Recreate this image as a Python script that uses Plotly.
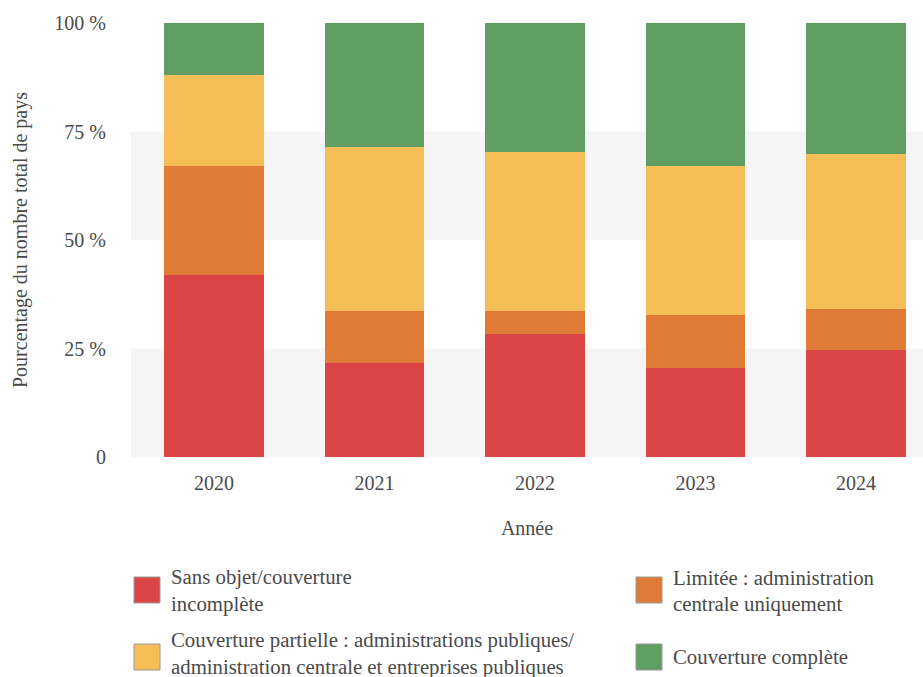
import plotly.graph_objects as go

# Data: share of countries (%) by coverage level and year
years = ["2020", "2021", "2022", "2023", "2024"]
series_names = [
    "Sans objet/couverture incomplète",
    "Limitée : administration centrale uniquement",
    "Couverture partielle : administrations publiques/administration centrale et entreprises publiques",
    "Couverture complète",
]
sans_objet = [41.9, 21.7, 28.4, 20.5, 24.7]
limitee = [25.1, 12.0, 5.2, 12.2, 9.4]
partielle = [21.0, 37.8, 36.6, 34.3, 35.7]
complete = [12.0, 28.5, 29.8, 33.0, 30.2]
y_ticks = [0, 25, 50, 75, 100]
y_tick_labels = ["0", "25 %", "50 %", "75 %", "100 %"]

colors = ["#DB4545", "#E07B37", "#F6BE56", "#5E9E62"]
font_family = "Liberation Serif"
text_color = "#4a4a4a"

W, H = 923, 677
ML, MR, MT, MB = 131, 0, 23, 220
PW, PH = W - ML - MR, H - MT - MB

fig = go.Figure()
for name, vals, col in zip(series_names, [sans_objet, limitee, partielle, complete], colors):
    fig.add_trace(go.Bar(x=years, y=vals, name=name, marker=dict(color=col, line=dict(width=0)),
                         width=0.62, showlegend=False))

# alternating horizontal bands
for y0, y1 in [(0, 25), (50, 75)]:
    fig.add_shape(type="rect", xref="paper", yref="y", x0=0, x1=1, y0=y0, y1=y1,
                  fillcolor="#F5F5F5", line=dict(width=0), layer="below")


def px_x(px):
    return (px - ML) / PW


def px_y(py):
    return (H - MB - py) / PH


# two-column legend below the chart
legend_items = [
    (134, 577, colors[0], [(577, "Sans objet/couverture"), (604, "incomplète")]),
    (636, 577, colors[1], [(577, "Limitée : administration"), (604, "centrale uniquement")]),
    (134, 644, colors[2], [(640, "Couverture partielle : administrations publiques/"),
                          (667, "administration centrale et entreprises publiques")]),
    (636, 644, colors[3], [(657, "Couverture complète")]),
]
for mx, my, col, lines in legend_items:
    fig.add_shape(type="rect", xref="paper", yref="paper",
                  x0=px_x(mx), x1=px_x(mx + 26), y0=px_y(my + 26), y1=px_y(my),
                  fillcolor=col, line=dict(color="#9a9a9a", width=1))
    for ly, txt in lines:
        fig.add_annotation(xref="paper", yref="paper", x=px_x(mx + 35), y=px_y(ly),
                           text=txt, showarrow=False, xanchor="left", yanchor="middle",
                           font=dict(family=font_family, size=20.8, color=text_color))

fig.update_layout(
    width=W, height=H,
    barmode="stack",
    margin=dict(l=ML, r=MR, t=MT, b=MB),
    plot_bgcolor="white", paper_bgcolor="white",
    font=dict(family=font_family, size=20, color=text_color),
    xaxis=dict(range=[-0.517, 4.418], showgrid=False, zeroline=False, showline=False,
               ticks="", ticklabelstandoff=12,
               title=dict(text="Année", standoff=27, font=dict(size=20))),
    yaxis=dict(range=[0, 100], tickvals=y_ticks, ticktext=y_tick_labels, showgrid=False,
               zeroline=False, showline=False, ticks="", ticklabelstandoff=24,
               title=dict(text="Pourcentage du nombre total de pays", standoff=21,
                          font=dict(size=20))),
)

fig.write_html("out.html")
